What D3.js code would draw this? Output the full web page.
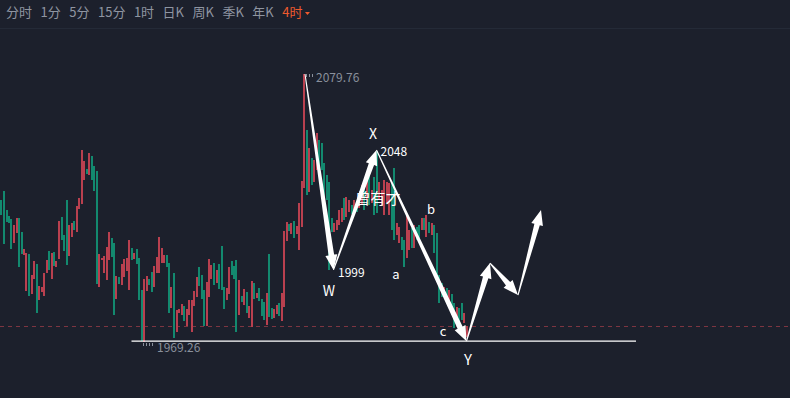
<!DOCTYPE html>
<html>
<head>
<meta charset="utf-8">
<script src="https://cdn.jsdelivr.net/npm/d3@7"></script>
<style>
  body { margin: 0; background: #1c202c; }
  svg { display: block; }
  text { font-family: "Noto Sans CJK SC", "Noto Sans", sans-serif; }
</style>
</head>
<body>
<svg id="chart" width="790" height="398"></svg>
<script>
// period tabs of the toolbar
const tabs = ["分时", "1分", "5分", "15分", "1时", "日K", "周K", "季K", "年K", "4时"];
const activeTab = "4时";

// 4h candles
const opens = [
  2018.9, 2021.6, 2027.8, 2031.5, 2023.7, 2021.2, 2020.0, 2010.2, 2014.3, 2020.3,
  2014.5, 2005.1, 1990.3, 2005.5, 1989.0, 1995.1, 2001.4, 1986.6, 1989.9, 1988.3,
  1997.6, 2006.8, 1995.2, 2006.2, 2000.2, 2003.5, 2020.7, 2013.4, 2027.8, 2004.7,
  2012.7, 2019.1, 2014.7, 2024.1, 2026.1, 2036.1, 2040.6, 2038.1, 2046.0, 2041.8,
  2039.8, 1992.0, 2003.1, 1997.8, 1994.8, 2003.1, 2012.1, 2010.1, 1986.9, 1996.0,
  1992.9, 1996.0, 1998.5, 1990.7, 2008.0, 2003.5, 2007.6, 2003.9, 1990.7, 1969.26,
  1990.3, 1995.2, 1998.1, 1991.9, 1997.9, 1997.9, 2001.7, 2001.7, 2005.1, 2001.8,
  1983.4, 1997.7, 1973.5, 1981.1, 1980.4, 1984.1, 1975.8, 1980.4, 1973.5, 1984.1,
  1987.8, 2000.2, 1996.9, 1990.7, 1975.8, 1987.8, 1995.2, 2001.8, 1993.6, 2001.4,
  2008.9, 1991.9, 1986.6, 1989.0, 2002.6, 2000.6, 2003.1, 1980.4, 1988.2, 1984.5,
  1989.9, 1979.1, 1975.5, 1993.6, 1987.4, 1991.5, 1987.0, 1985.7, 1976.2, 2005.5,
  1983.2, 1979.1, 1980.8, 1985.3, 1978.0, 1983.7, 2010.9, 2017.9, 2013.8, 2019.1,
  2013.8, 2007.2, 2016.7, 2032.7, 2056.7, 2031.1, 2045.1, 2035.2, 2040.2, 2052.5,
  2051.3, 2043.1, 2038.1, 2035.2, 2020.4, 2014.6, 2015.4, 2017.5, 2018.7, 2028.6,
  2020.8, 2022.9, 2025.7, 2023.7, 2027.0, 2024.5, 2025.7, 2034.0, 2027.8, 2040.2,
  2026.6, 2037.3, 2048.0, 2027.8, 2025.4, 2021.6, 2026.6, 2021.6, 2034.8, 2041.0,
  2013.4, 2010.1, 2012.5, 2011.3, 2003.9, 2007.2, 2016.2, 2008.0, 2016.7, 2017.5,
  2015.4, 2020.4, 2012.5, 2018.7, 2013.4, 2017.5, 2014.2, 1996.9, 1993.6, 1987.8,
  1991.5, 1986.6, 1989.0, 1985.3, 1978.3, 1983.2, 1985.3, 1977.1, 1971.3
];
const closes = [
  2025.0, 2027.8, 2021.6, 2009.8, 2018.9, 2018.4, 2007.7, 2017.5, 2020.3, 2000.3,
  2005.5, 2007.6, 2005.8, 1988.3, 1996.9, 2002.6, 1981.3, 1992.3, 1991.8, 1997.6,
  2003.1, 1998.9, 2005.8, 2000.5, 2002.7, 2019.3, 2011.3, 2006.8, 2001.0, 2017.5,
  2018.2, 2015.4, 2025.3, 2028.5, 2048.4, 2043.9, 2038.4, 2047.1, 2036.1, 2031.5,
  1993.2, 2005.5, 2003.9, 2004.7, 2008.3, 2014.6, 2004.2, 1980.4, 1996.4, 1993.2,
  2001.4, 2003.5, 2003.9, 2011.3, 2003.1, 2006.0, 2001.4, 1986.6, 1969.5, 1995.2,
  1996.4, 1992.7, 1989.9, 2000.5, 2004.3, 2012.7, 2008.1, 2005.1, 2000.3, 1981.3,
  1991.9, 1971.0, 1982.4, 1982.8, 1984.9, 1978.0, 1982.8, 1986.6, 1986.6, 1990.3,
  1996.0, 1992.3, 1987.0, 1975.8, 1994.0, 2003.5, 2001.0, 1992.7, 1998.9, 1991.1,
  1990.7, 1982.8, 1991.5, 2000.2, 1996.9, 1995.2, 1973.4, 1994.8, 1985.7, 1991.1,
  1981.2, 1984.1, 1994.4, 1987.0, 1989.5, 1986.1, 1980.0, 1978.3, 1989.5, 1979.7,
  1978.7, 1982.8, 1984.5, 1980.0, 1989.5, 2015.0, 2018.7, 2015.0, 2018.3, 2012.1,
  2017.1, 2026.6, 2035.6, 2079.76, 2029.9, 2049.2, 2034.0, 2044.3, 2055.4, 2042.2,
  2040.2, 2028.6, 2027.8, 1998.9, 2014.6, 2018.3, 2019.6, 2023.7, 2024.5, 2019.6,
  2029.0, 2027.8, 2022.0, 2027.8, 2022.9, 2029.9, 2034.0, 2023.7, 2036.1, 2025.7,
  2031.9, 2021.6, 2022.4, 2035.2, 2031.9, 2036.1, 2035.2, 2034.8, 2015.4, 2011.3,
  2018.3, 2016.7, 2007.2, 2000.2, 2021.6, 2015.4, 2008.0, 2017.5, 2011.3, 2012.1,
  2020.4, 2015.4, 2021.6, 2014.2, 2018.3, 2006.0, 1996.0, 1985.3, 1987.8, 1991.9,
  1985.3, 1990.7, 1980.4, 1975.0, 1983.7, 1976.2, 1978.3, 1981.2, 1975.8
];

// hand-drawn wave count: peak, W, X, Y and the projected path (candle index, price)
const waveIdx   = [123.4, 134.8, 152.0, 188.0, 197.4, 208.6, 217.8];
const wavePrice = [2079.76, 1999.0, 2048.4, 1969.6, 2001.8, 1988.6, 2023.7];

// wave labels: text, candle index, price, size
const labelText  = ["X", "2048", "W", "1999", "a", "b", "c", "Y"];
const labelIdx   = [150.6, 153.6, 133.0, 136.6, 159.8, 173.8, 178.6, 188.6];
const labelPrice = [2055.4, 2048.4, 1990.5, 1998.5, 1997.3, 2024.5, 1973.8, 1962.6];
const labelSize  = [14, 12, 14, 12, 13, 13, 13, 15];

// support line drawn under the lows
const supportPrice = 1969.6;
const supportFrom = 54, supportTo = 255.8;

const n = opens.length;
const highs = opens.map((o, i) => Math.max(o, closes[i]));
const lows = opens.map((o, i) => Math.min(o, closes[i]));
const lastPrice = closes[n - 1];

const svg = d3.select("#chart");
const W = 790, H = 398;

const red = "#b9404f", green = "#13896f";

svg.append("rect").attr("width", W).attr("height", H).attr("fill", "#1c202c");

// toolbar
svg.append("line")
  .attr("x1", 0).attr("x2", W).attr("y1", 28.5).attr("y2", 28.5)
  .attr("stroke", "#242a37");

let tx = 6;
tabs.forEach(function(t) {
  let el = svg.append("text")
    .attr("x", tx).attr("y", 16.5)
    .attr("font-size", 13)
    .attr("fill", t === activeTab ? "#ee5a2e" : "#8f95a1")
    .text(t);
  tx += el.node().getComputedTextLength() + 8.5;
  if (t === activeTab) {
    svg.append("path")
      .attr("d", `M${tx - 6},12 l5,0 l-2.5,3 z`)
      .attr("fill", "#ee5a2e");
  }
});

const x = d3.scaleLinear().domain([0, n - 1]).range([-3.5, -3.5 + (n - 1) * 2.5]);
const y = d3.scaleLinear().domain([d3.min(lows), d3.max(highs)]).range([342, 74]);

// last price dashed line
svg.append("line")
  .attr("x1", 0).attr("x2", W)
  .attr("y1", Math.round(y(lastPrice)) + 0.5).attr("y2", Math.round(y(lastPrice)) + 0.5)
  .attr("stroke", "#7d3541")
  .attr("stroke-dasharray", "4,4");

// candles
const candles = svg.append("g").attr("shape-rendering", "crispEdges");
candles.selectAll("rect")
  .data(d3.range(n))
  .enter().append("rect")
  .attr("x", i => Math.round(x(i)) - 1)
  .attr("width", 2)
  .attr("y", i => y(highs[i]))
  .attr("height", i => Math.max(1, y(lows[i]) - y(highs[i])))
  .attr("fill", i => closes[i] >= opens[i] ? red : green);

// max / min labels
const iMax = d3.maxIndex(highs), iMin = d3.minIndex(lows);
const grey = "#8a909c";

svg.append("line")
  .attr("x1", x(iMax) + 2).attr("x2", x(iMax) + 11)
  .attr("y1", y(highs[iMax]) + 1.5).attr("y2", y(highs[iMax]) + 1.5)
  .attr("stroke", grey).attr("stroke-width", 3).attr("stroke-dasharray", "1,2");
svg.append("text")
  .attr("x", x(iMax) + 12).attr("y", y(highs[iMax]) + 8)
  .attr("font-size", 12).attr("fill", grey)
  .text(d3.format(".2f")(highs[iMax]));

svg.append("line")
  .attr("x1", x(iMin) - 1).attr("x2", x(iMin) + 11)
  .attr("y1", y(lows[iMin]) + 2.5).attr("y2", y(lows[iMin]) + 2.5)
  .attr("stroke", grey).attr("stroke-width", 3).attr("stroke-dasharray", "1,2");
svg.append("text")
  .attr("x", x(iMin) + 13).attr("y", y(lows[iMin]) + 10)
  .attr("font-size", 12).attr("fill", grey)
  .text(d3.format(".2f")(lows[iMin]));

// support line
svg.append("line")
  .attr("x1", x(supportFrom)).attr("x2", x(supportTo))
  .attr("y1", y(supportPrice)).attr("y2", y(supportPrice))
  .attr("stroke", "#ffffff").attr("stroke-width", 1.3);

// tapered arrows between wave points
function arrow(ax, ay, bx, by) {
  let dx = bx - ax, dy = by - ay;
  let L = Math.sqrt(dx * dx + dy * dy);
  let ux = dx / L, uy = dy / L;
  let nx = -uy, ny = ux;
  let head = Math.min(15, L * 0.4);
  let hx = bx - ux * head, hy = by - uy * head;
  let pts = [
    [ax + nx * 0.5, ay + ny * 0.5],
    [hx + nx * 2.8, hy + ny * 2.8],
    [hx + nx * 6, hy + ny * 6],
    [bx, by],
    [hx - nx * 6, hy - ny * 6],
    [hx - nx * 2.8, hy - ny * 2.8],
    [ax - nx * 0.5, ay - ny * 0.5]
  ];
  return "M" + pts.map(p => p[0].toFixed(1) + "," + p[1].toFixed(1)).join("L") + "Z";
}

const arrows = svg.append("g");
for (let k = 0; k < waveIdx.length - 1; k++) {
  arrows.append("path")
    .attr("d", arrow(x(waveIdx[k]), y(wavePrice[k]), x(waveIdx[k + 1]), y(wavePrice[k + 1])))
    .attr("fill", "#ffffff");
}

// wave labels
svg.append("g").selectAll("text")
  .data(labelText)
  .enter().append("text")
  .attr("x", (d, i) => x(labelIdx[i]))
  .attr("y", (d, i) => y(labelPrice[i]))
  .attr("text-anchor", (d, i) => d.length > 1 ? "start" : "middle")
  .attr("dominant-baseline", "central")
  .attr("font-size", (d, i) => labelSize[i])
  .attr("fill", "#ffffff")
  .text(d => d);

// author tag
svg.append("text")
  .attr("x", 378).attr("y", 204)
  .attr("text-anchor", "middle")
  .attr("font-size", 15)
  .attr("fill", "#ffffff")
  .text("曾有才");
</script>
</body>
</html>
